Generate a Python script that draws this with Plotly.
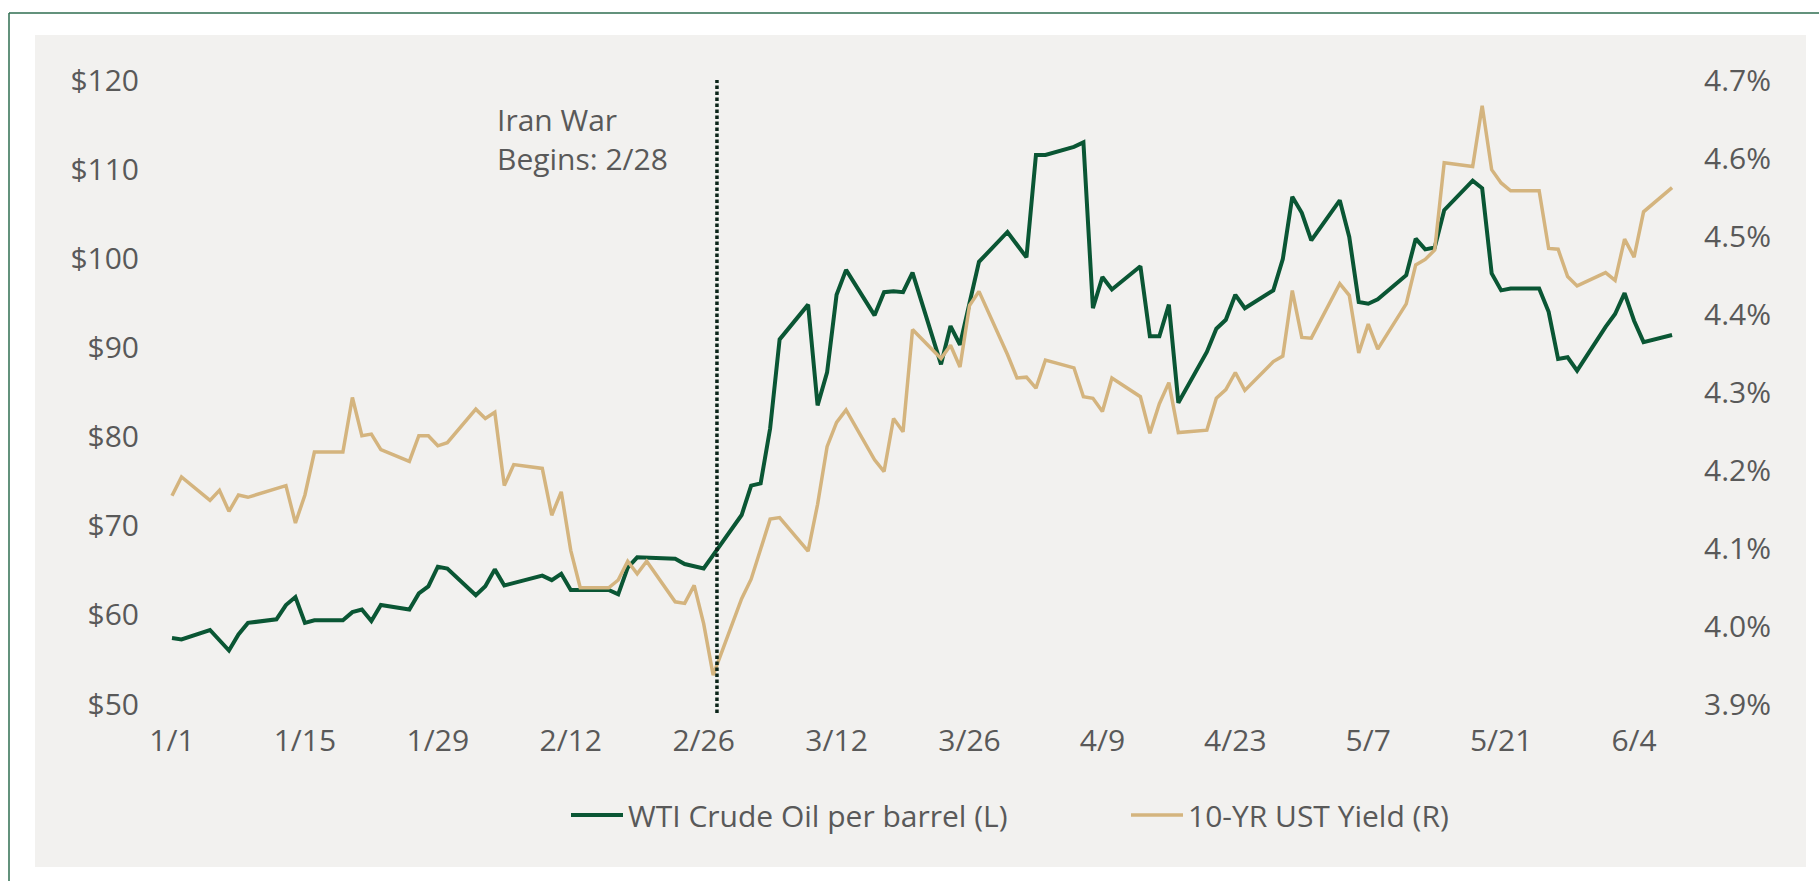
import pandas as pd
import plotly.graph_objects as go

# ---------------- data ----------------
dates = pd.bdate_range("2026-01-01", "2026-06-08")  # business days

wti_jan = [57.4, 57.25, 58.3, 57.2, 56.0, 57.8, 59.1, 59.5, 61.1, 62.0, 59.1,
           59.4, 59.4, 60.3, 60.6, 59.3, 61.1, 60.6, 62.4, 63.2, 65.4, 65.2]
wti_feb = [62.2, 63.2, 65.1, 63.3, 63.6, 64.4, 63.9, 64.6, 62.8, 62.8, 62.8,
           62.3, 65.3, 66.45, 66.4, 66.3, 65.7, 65.45, 65.2, 66.7]
wti_mar = [71.2, 74.5, 74.75, 80.9, 90.9, 94.8, 83.5, 87.2, 95.9, 98.7, 93.6,
           96.2, 96.3, 96.2, 98.4, 88.1, 92.4, 90.3, 95.0, 99.6, 102.95, 101.5]
wti_apr = [100.1, 111.6, 111.6, 112.5, 113.0, 94.4, 97.9, 96.5, 99.1, 91.25, 91.25,
           94.8, 83.8, 89.5, 92.1, 93.1, 95.9, 94.4, 96.4, 99.9, 106.9, 105.1]
wti_may = [102.0, 106.5, 102.4, 95.1, 94.9, 95.4, 98.1, 102.2, 101.0, 101.2, 105.4,
           108.7, 107.85, 98.3, 96.4, 96.6, 96.6, 94.0, 88.7, 88.9, 87.4]
wti_jun = [92.3, 93.75, 96.1, 93.0, 90.6, 91.4]

ust_jan = [4.167, 4.191, 4.161, 4.174, 4.147, 4.168, 4.165, 4.176, 4.180, 4.132, 4.168,
           4.223, 4.223, 4.293, 4.244, 4.246, 4.226, 4.211, 4.244, 4.244, 4.231, 4.235]
ust_feb = [4.278, 4.266, 4.274, 4.180, 4.207, 4.202, 4.142, 4.172, 4.097, 4.049, 4.049,
           4.059, 4.083, 4.067, 4.083, 4.031, 4.029, 4.052, 4.003, 3.937]
ust_mar = [4.035, 4.060, 4.097, 4.137, 4.139, 4.096, 4.156, 4.230, 4.261, 4.277, 4.213,
           4.198, 4.266, 4.249, 4.380, 4.343, 4.360, 4.332, 4.411, 4.429, 4.348, 4.318]
ust_apr = [4.319, 4.305, 4.341, 4.331, 4.294, 4.292, 4.275, 4.318, 4.294, 4.247, 4.285,
           4.312, 4.248, 4.251, 4.292, 4.303, 4.325, 4.302, 4.339, 4.346, 4.430, 4.370]
ust_may = [4.369, 4.439, 4.424, 4.350, 4.387, 4.355, 4.413, 4.463, 4.470, 4.482, 4.594,
           4.589, 4.667, 4.585, 4.568, 4.558, 4.558, 4.484, 4.483, 4.448, 4.436]
ust_jun = [4.453, 4.443, 4.496, 4.473, 4.531, 4.562]

wti = wti_jan + wti_feb + wti_mar + wti_apr + wti_may + wti_jun
ust = ust_jan + ust_feb + ust_mar + ust_apr + ust_may + ust_jun

tick_dates = ["2026-01-01", "2026-01-15", "2026-01-29", "2026-02-12", "2026-02-26",
              "2026-03-12", "2026-03-26", "2026-04-09", "2026-04-23", "2026-05-07",
              "2026-05-21", "2026-06-04"]
tick_labels = ["1/1", "1/15", "1/29", "2/12", "2/26", "3/12", "3/26", "4/9",
               "4/23", "5/7", "5/21", "6/4"]

event_date = "2026-02-27 09:36"
event_label = "Iran War<br>Begins: 2/28"
series_names = ["WTI Crude Oil per barrel (L)", "10-YR UST Yield (R)"]

# ---------------- layout helpers ----------------
W, H = 1819, 881
def fx(p):
    return p / W
def fy(p):
    return 1 - p / H

GREEN = "#0A5634"
TAN = "#D4B47E"
TEXT = "#595959"
FONT = "Open Sans"
PANEL = "#F2F1EF"

# x range from pixel geometry (1/1 at px 172, 9.494 px per day)
PX_DAY = 9.494
X0_PX, PLOT_L, PLOT_R = 172, 150, 1695
base = pd.Timestamp("2026-01-01")
x_start = base + pd.Timedelta(days=(PLOT_L - X0_PX) / PX_DAY)
x_end = base + pd.Timedelta(days=(PLOT_R - X0_PX) / PX_DAY)

fig = go.Figure()
fig.add_trace(go.Scatter(x=dates, y=wti, name=series_names[0], mode="lines",
                         line=dict(color=GREEN, width=4), yaxis="y"))
fig.add_trace(go.Scatter(x=dates, y=ust, name=series_names[1], mode="lines",
                         line=dict(color=TAN, width=3.5), yaxis="y2"))

fig.update_layout(
    width=W, height=H, autosize=False,
    margin=dict(l=0, r=0, t=0, b=0, pad=0, autoexpand=False),
    paper_bgcolor="white", plot_bgcolor="rgba(0,0,0,0)",
    font=dict(family=FONT, size=30, color=TEXT),
    xaxis=dict(type="date", domain=[fx(PLOT_L), fx(PLOT_R)],
               range=[x_start, x_end], tickvals=tick_dates, ticktext=tick_labels,
               showgrid=False, zeroline=False, showline=False, ticks="",
               automargin=False,
               ticklabelstandoff=16, tickfont=dict(size=30, color=TEXT)),
    yaxis=dict(domain=[fy(704), fy(80)], range=[50, 120], tick0=50, dtick=10,
               tickprefix="$", showgrid=False, zeroline=False, showline=False,
               automargin=False,
               ticks="", ticklabelstandoff=10, tickfont=dict(size=30, color=TEXT)),
    yaxis2=dict(overlaying="y", side="right", range=[3.9, 4.7], tick0=3.9, dtick=0.1,
                tickformat=".1f", ticksuffix="%", showgrid=False, zeroline=False,
                showline=False, ticks="", ticklabelstandoff=8, automargin=False,
                tickfont=dict(size=30, color=TEXT)),
    legend=dict(orientation="h", x=fx(566), y=fy(815), xanchor="left", yanchor="middle",
                bgcolor="rgba(0,0,0,0)", font=dict(size=30, color=TEXT),
                itemwidth=52, entrywidth=493, entrywidthmode="pixels"),
    showlegend=True,
)

shapes = [
    # grey panel
    dict(type="rect", xref="paper", yref="paper", x0=fx(35), x1=fx(1806),
         y0=fy(867), y1=fy(35), fillcolor=PANEL, line=dict(width=0), layer="below"),
    # outer frame (left and top edges visible)
    dict(type="line", xref="paper", yref="paper", x0=fx(9), x1=fx(9),
         y0=fy(881), y1=fy(13), line=dict(color="#2F6E50", width=1.5), layer="below"),
    dict(type="line", xref="paper", yref="paper", x0=fx(9), x1=1.0,
         y0=fy(13), y1=fy(13), line=dict(color="#2F6E50", width=1.5), layer="below"),
    # event marker
    dict(type="line", xref="x", yref="paper", x0=event_date, x1=event_date,
         y0=fy(713), y1=fy(80), line=dict(color="#0B2418", width=3.5, dash="3.5px,2.5px"),
         layer="above"),
]
fig.update_layout(shapes=shapes)

fig.add_annotation(xref="paper", yref="paper", x=fx(495), y=fy(139.5),
                   xanchor="left", yanchor="middle", align="left", showarrow=False,
                   text=event_label, font=dict(size=30, color=TEXT, family=FONT))

fig.write_html("out.html", config={"displayModeBar": False},
               post_script="document.body.style.margin='0';")
